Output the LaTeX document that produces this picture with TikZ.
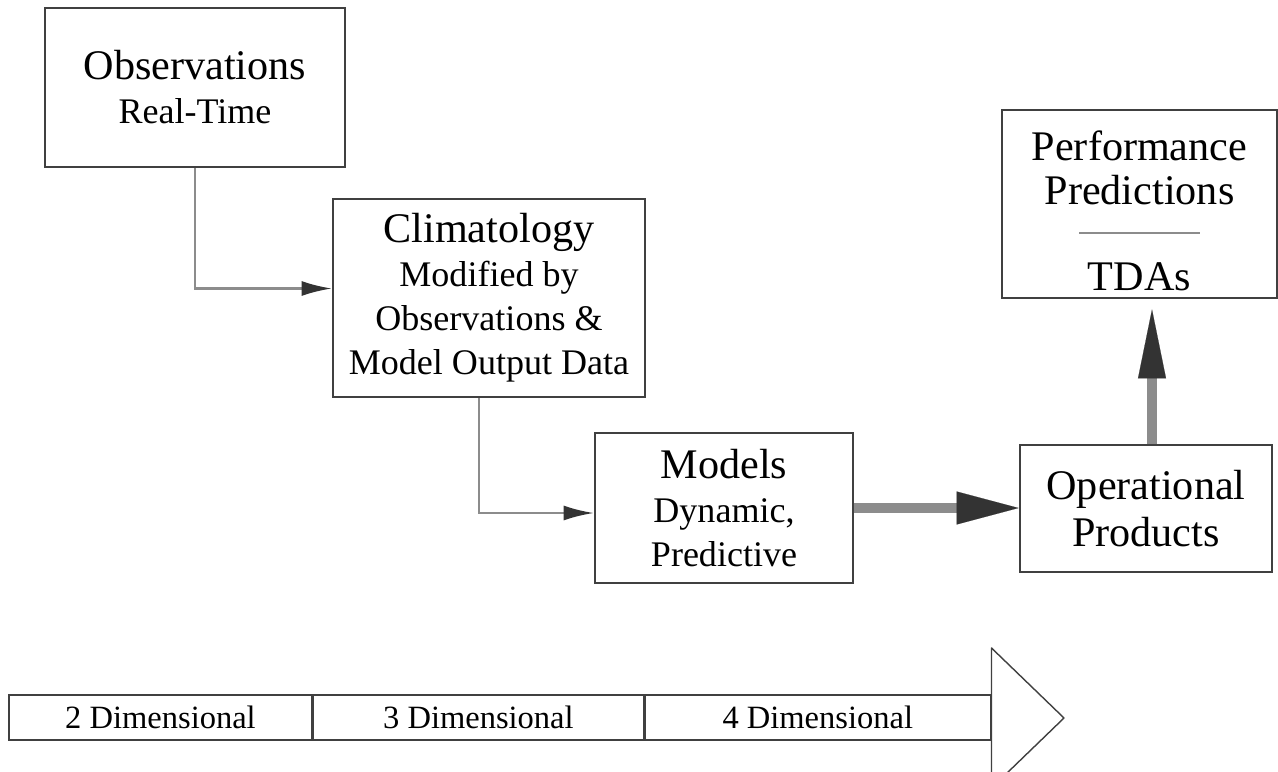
\documentclass[tikz,border=0pt]{standalone}
\usepackage{fontspec}
\setmainfont{Liberation Serif}
\usetikzlibrary{arrows.meta,positioning}
\definecolor{bordgray}{gray}{0.25}
\definecolor{shaftgray}{gray}{0.55}
\definecolor{headgray}{gray}{0.2}
\newcommand{\sm}[1]{{\fontsize{20.5}{25}\selectfont #1}}
\tikzset{bx/.append style={draw=bordgray,line width=1.5pt,rectangle,inner sep=0pt,align=center,font=\fontsize{24}{25}\selectfont}}
\tikzset{thin/.append style={draw=shaftgray,line width=1.3pt,-{Latex[length=6mm,width=3mm,color=headgray]}}}
\tikzset{fat/.append style={draw=shaftgray,line width=0.2cm}}
\tikzset{bar/.append style={draw=bordgray,line width=0.8pt,rectangle,inner sep=0pt,minimum height=0.9cm,font=\fontsize{18.5}{20}\selectfont}}

\begin{document}
\begin{tikzpicture}
                \useasboundingbox (0,0) rectangle (25.56,-15.44);
                % boxes
                \node[bx,minimum width=6cm,minimum height=3.18cm] (ob) at (3.9,-1.75) {Observations\\\sm{Real-Time}};
                \node[bx,minimum width=6.24cm,minimum height=3.96cm] (cl) at (9.78,-5.96) {Climatology\\\sm{Modified by}\\\sm{Observations \&}\\\sm{Model Output Data}};
                \node[bx,minimum width=5.16cm,minimum height=3cm] (mo) at (14.48,-10.16) {Models\\\sm{Dynamic,}\\\sm{Predictive}};
                \node[bx,minimum width=5.04cm,minimum height=2.54cm] (op) at (22.92,-10.17) {Operational\\[2pt]Products};
                \node[bx,minimum width=5.5cm,minimum height=3.76cm] (pp) at (22.79,-4.08) {\rule{0pt}{25pt}Performance\\Predictions\\[24pt]TDAs};
                \draw[draw=shaftgray,line width=0.6pt] ([shift={(-1.21,-0.58)}]pp.center) -- ([shift={(1.21,-0.58)}]pp.center);
                % connectors
                \draw[thin] (ob.south) |- ([yshift=1.9mm]cl.west);
                \draw[thin] ([xshift=-2mm]cl.south) |- ([yshift=-1mm]mo.west);
                \draw[fat,-{Triangle[length=12.4mm,width=6.6mm,line width=0.1pt,color=headgray]}] (mo.east) -- (mo.east -| op.west);
                \draw[fat,shorten >=2mm,-{Triangle[length=13.8mm,width=5.6mm,line width=0.1pt,color=headgray]}] ([xshift=1.2mm]op.north) -- ([xshift=1.2mm]op.north |- pp.south);
                % dimension bar
                \node[bar,minimum width=6.06cm] (d2) at (3.21,-14.35) {2 Dimensional};
                \node[bar,minimum width=6.6cm,right=0pt of d2] (d3) {3 Dimensional};
                \node[bar,minimum width=6.92cm,right=0pt of d3] (d4) {4 Dimensional};
                \coordinate (tip) at (21.28,-14.36);
                \begin{scope}
                \clip (0,0) rectangle (25.56,-15.44);
                \draw[draw=bordgray,line width=0.8pt,line join=round] (d4.east |- 0,-12.96) -- (tip) -- (d4.east |- 0,-15.76) -- cycle;
                \end{scope}
            \end{tikzpicture}
\end{document}
